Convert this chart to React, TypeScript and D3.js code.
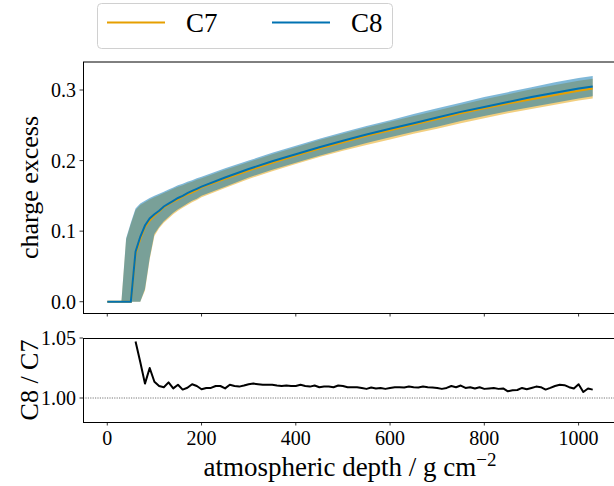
import React from "react";
import * as d3 from "d3";

const depth = [0, 10, 20, 30, 40, 50, 60, 70, 80, 90, 100, 110, 120, 130, 140, 150, 160, 170, 180, 190, 200, 250, 300, 350, 400, 450, 500, 550, 600, 650, 700, 750, 800, 850, 900, 950, 1000, 1030];

const c8Mean = [0, 0, 0, 0, 0, 0, 0.071, 0.092, 0.108, 0.118, 0.124, 0.129, 0.135, 0.139, 0.143, 0.147, 0.150, 0.154, 0.157, 0.160, 0.163, 0.176, 0.188, 0.199, 0.209, 0.219, 0.228, 0.237, 0.245, 0.253, 0.261, 0.269, 0.276, 0.283, 0.290, 0.296, 0.302, 0.305];
const c7Mean = [0, 0, 0, 0, 0, 0, 0.068, 0.089, 0.106, 0.115, 0.122, 0.128, 0.134, 0.138, 0.142, 0.145, 0.149, 0.152, 0.155, 0.158, 0.162, 0.174, 0.186, 0.197, 0.207, 0.217, 0.226, 0.235, 0.243, 0.251, 0.259, 0.267, 0.274, 0.281, 0.287, 0.293, 0.299, 0.302];

const c8Upper = [0, 0, 0, 0, 0.090, 0.112, 0.132, 0.139, 0.143, 0.147, 0.150, 0.153, 0.156, 0.159, 0.162, 0.165, 0.167, 0.170, 0.172, 0.175, 0.177, 0.189, 0.200, 0.211, 0.221, 0.231, 0.240, 0.249, 0.257, 0.266, 0.274, 0.282, 0.290, 0.297, 0.304, 0.311, 0.317, 0.320];
const c8Lower = [0, 0, 0, 0, 0, 0, 0, 0, 0.018, 0.062, 0.096, 0.106, 0.114, 0.120, 0.126, 0.131, 0.135, 0.139, 0.143, 0.146, 0.150, 0.163, 0.176, 0.187, 0.197, 0.207, 0.216, 0.225, 0.233, 0.241, 0.248, 0.256, 0.263, 0.270, 0.276, 0.282, 0.288, 0.291];
const c7Upper = [0, 0, 0, 0, 0.088, 0.110, 0.130, 0.137, 0.141, 0.145, 0.148, 0.151, 0.154, 0.157, 0.160, 0.163, 0.165, 0.168, 0.170, 0.173, 0.175, 0.187, 0.198, 0.209, 0.219, 0.229, 0.238, 0.247, 0.255, 0.263, 0.271, 0.279, 0.287, 0.294, 0.301, 0.307, 0.313, 0.316];
const c7Lower = [0, 0, 0, 0, 0, 0, 0, 0, 0.016, 0.060, 0.093, 0.104, 0.112, 0.118, 0.124, 0.129, 0.133, 0.137, 0.141, 0.144, 0.148, 0.161, 0.174, 0.185, 0.195, 0.205, 0.214, 0.222, 0.230, 0.238, 0.245, 0.253, 0.260, 0.267, 0.273, 0.279, 0.285, 0.288];

const ratioDepth = [60, 70, 80, 90, 100, 110, 120, 130, 140, 150, 160, 170, 180, 190, 200, 210, 220, 230, 240, 250, 260, 270, 280, 290, 300, 310, 320, 330, 340, 350, 360, 370, 380, 390, 400, 410, 420, 430, 440, 450, 460, 470, 480, 490, 500, 510, 520, 530, 540, 550, 560, 570, 580, 590, 600, 610, 620, 630, 640, 650, 660, 670, 680, 690, 700, 710, 720, 730, 740, 750, 760, 770, 780, 790, 800, 810, 820, 830, 840, 850, 860, 870, 880, 890, 900, 910, 920, 930, 940, 950, 960, 970, 980, 990, 1000, 1010, 1020, 1030];
const ratio = [1.047, 1.030, 1.012, 1.025, 1.0135, 1.010, 1.009, 1.013, 1.008, 1.011, 1.007, 1.0085, 1.0115, 1.010, 1.0073, 1.0084, 1.0084, 1.010, 1.010, 1.008, 1.011, 1.010, 1.0095, 1.0104, 1.0115, 1.012, 1.0115, 1.011, 1.011, 1.011, 1.0104, 1.010, 1.0104, 1.010, 1.010, 1.011, 1.010, 1.0095, 1.0104, 1.009, 1.0095, 1.0095, 1.009, 1.0104, 1.010, 1.009, 1.009, 1.009, 1.0084, 1.0076, 1.0087, 1.0079, 1.0084, 1.0076, 1.0084, 1.009, 1.009, 1.0087, 1.0095, 1.009, 1.0087, 1.0095, 1.009, 1.0087, 1.0084, 1.0076, 1.0084, 1.010, 1.009, 1.0104, 1.0084, 1.009, 1.0079, 1.009, 1.0076, 1.008, 1.0084, 1.0076, 1.008, 1.0056, 1.0065, 1.0067, 1.0084, 1.0073, 1.0084, 1.0095, 1.009, 1.007, 1.0084, 1.010, 1.011, 1.0107, 1.009, 1.0079, 1.0115, 1.005, 1.0079, 1.007];

const xTicks = [0, 200, 400, 600, 800, 1000];
const yTicksTop = [0.0, 0.1, 0.2, 0.3];
const yTicksBottom = [1.0, 1.05];
const seriesNames = ["C7", "C8"];
const seriesColors = ["#E69F00", "#0072B2"];

const FONT = "'Liberation Serif', 'Times New Roman', serif";

export default function App() {
  const W = 614, H = 486;
  const L = 83, R = 617;
  const topT = 62, topB = 313;
  const botT = 338, botB = 422;

  const x = d3.scaleLinear().domain([-51.5, 1081.5]).range([L, R]);
  const yTop = d3.scaleLinear().domain([-0.016, 0.3397]).range([topB, topT]);
  const yBot = d3.scaleLinear().domain([0.98, 1.05]).range([botB, botT]);

  const idx = depth.map((_, i) => i);
  const area = (up: number[], lo: number[]) =>
    d3.area<number>().x((i) => x(depth[i])).y0((i) => yTop(lo[i])).y1((i) => yTop(up[i]))(idx) || "";
  const line = (m: number[]) =>
    d3.line<number>().x((i) => x(depth[i])).y((i) => yTop(m[i]))(idx) || "";
  const ratioPath =
    d3.line<number>().x((i) => x(ratioDepth[i])).y((i) => yBot(ratio[i]))(ratioDepth.map((_, i) => i)) || "";

  const tickFont = 20;

  return (
    <svg width={W} height={H} style={{ position: "absolute", left: 0, top: 0, background: "#fff" }} fontFamily={FONT}>
      <rect x={0} y={0} width={W} height={H} fill="#fff" />
      {/* Bands */}
      <path d={area(c7Upper, c7Lower)} fill={seriesColors[0]} fillOpacity={0.5} stroke="none" />
      <path d={area(c8Upper, c8Lower)} fill={seriesColors[1]} fillOpacity={0.5} stroke="none" />
      <path d={line(c7Mean)} fill="none" stroke={seriesColors[0]} strokeWidth={2} />
      <path d={line(c8Mean)} fill="none" stroke={seriesColors[1]} strokeWidth={2} />

      {/* Top axes spines */}
      <line x1={L} x2={R} y1={topT} y2={topT} stroke="#000" strokeWidth={1} />
      <line x1={L + 0.5} x2={L + 0.5} y1={topT} y2={topB} stroke="#000" strokeWidth={1} />
      <line x1={L} x2={R} y1={topB + 0.5} y2={topB + 0.5} stroke="#000" strokeWidth={1} />
      {xTicks.map((t) => (
        <line key={"tx" + t} x1={x(t)} x2={x(t)} y1={topB} y2={topB + 3.5} stroke="#000" strokeWidth={0.8} />
      ))}
      {yTicksTop.map((t) => (
        <g key={"ty" + t}>
          <line x1={L - 3.5} x2={L} y1={yTop(t)} y2={yTop(t)} stroke="#000" strokeWidth={0.8} />
          <text x={L - 7} y={yTop(t)} dy="0.35em" textAnchor="end" fontSize={tickFont}>
            {t.toFixed(1)}
          </text>
        </g>
      ))}
      <text transform={`translate(38,${(topT + topB) / 2}) rotate(-90)`} textAnchor="middle" fontSize={26}>
        charge excess
      </text>

      {/* Bottom axes */}
      <line x1={L} x2={R} y1={yBot(1.0)} y2={yBot(1.0)} stroke="#777" strokeWidth={1} strokeDasharray="1.2,1.2" />
      <path d={ratioPath} fill="none" stroke="#000" strokeWidth={2} strokeLinejoin="round" />
      <line x1={L} x2={R} y1={botT + 0.5} y2={botT + 0.5} stroke="#000" strokeWidth={1} />
      <line x1={L + 0.5} x2={L + 0.5} y1={botT} y2={botB} stroke="#000" strokeWidth={1} />
      <line x1={L} x2={R} y1={botB + 0.5} y2={botB + 0.5} stroke="#000" strokeWidth={1} />
      {xTicks.map((t) => (
        <g key={"bx" + t}>
          <line x1={x(t)} x2={x(t)} y1={botB} y2={botB + 3.5} stroke="#000" strokeWidth={0.8} />
          <text x={x(t)} y={botB + 7} dy="0.78em" textAnchor="middle" fontSize={tickFont}>
            {t}
          </text>
        </g>
      ))}
      {yTicksBottom.map((t) => (
        <g key={"by" + t}>
          <line x1={L - 3.5} x2={L} y1={yBot(t)} y2={yBot(t)} stroke="#000" strokeWidth={0.8} />
          <text x={L - 7} y={yBot(t)} dy="0.35em" textAnchor="end" fontSize={tickFont}>
            {t.toFixed(2)}
          </text>
        </g>
      ))}
      <text transform={`translate(38,${(botT + botB) / 2}) rotate(-90)`} textAnchor="middle" fontSize={26}>
        C8 / C7
      </text>
      <text x={(L + R) / 2} y={476} textAnchor="middle" fontSize={27}>
        atmospheric depth / g cm
        <tspan dy={-10} fontSize={19}>−2</tspan>
      </text>

      {/* Legend */}
      <rect x={97.5} y={3.5} width={295} height={45} rx={4} ry={4} fill="#fff" fillOpacity={0.8} stroke="#d0d0d0" strokeWidth={1} />
      {seriesNames.map((n, i) => (
        <g key={n}>
          <line x1={107 + i * 165} x2={165 + i * 165} y1={22.5} y2={22.5} stroke={seriesColors[i]} strokeWidth={2} />
          <text x={186 + i * 165} y={22.5} dy="0.35em" fontSize={27}>
            {n}
          </text>
        </g>
      ))}
    </svg>
  );
}
